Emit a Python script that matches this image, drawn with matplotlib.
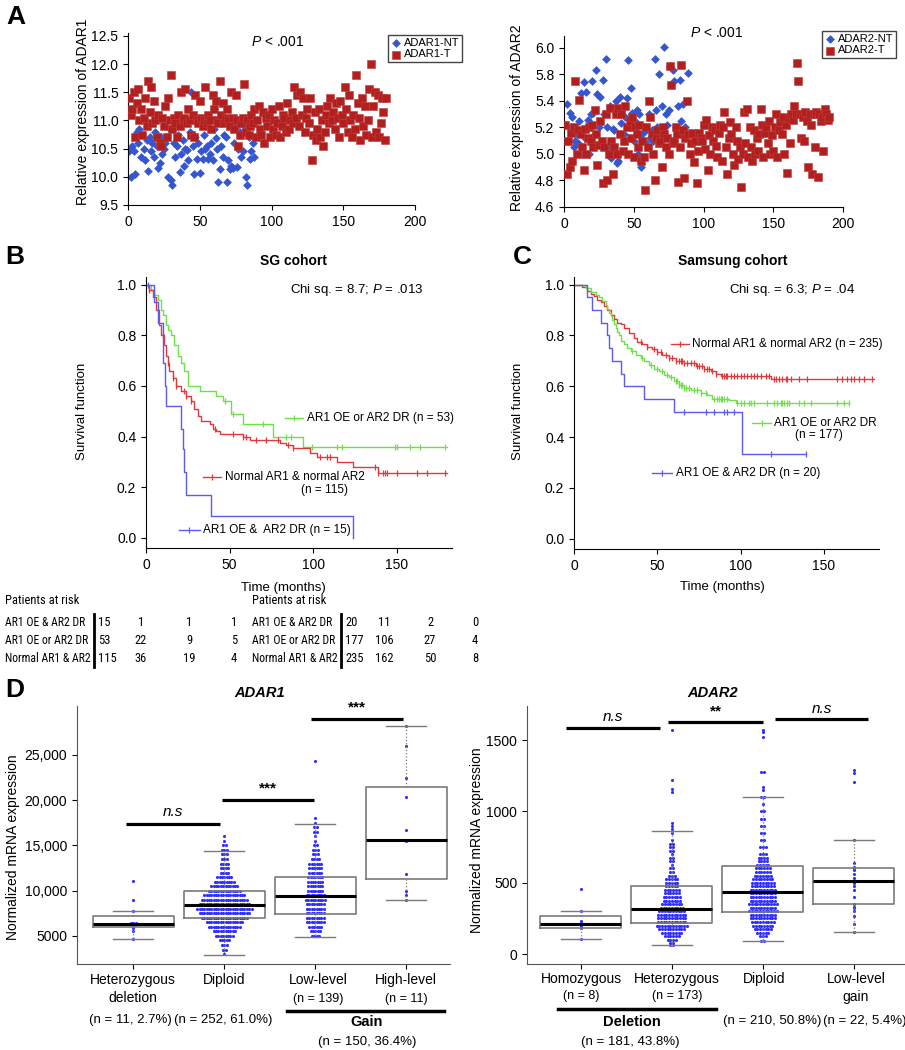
import numpy as np
import matplotlib
matplotlib.use("Agg")
import matplotlib.pyplot as plt
from matplotlib.lines import Line2D
from matplotlib import font_manager

plt.rcParams['font.family'] = ['Liberation Sans', 'DejaVu Sans']
plt.rcParams['mathtext.fontset'] = 'custom'
plt.rcParams['mathtext.rm'] = 'Liberation Sans'
plt.rcParams['mathtext.it'] = 'Liberation Sans:italic'

# ---------------- data: panel A (expression per sample) ----------------
adar1_nt = [10.45, 10.0, 10.55, 10.45, 10.05, 10.8, 10.6, 10.85, 10.35, 10.75,
            10.5, 10.3, 10.65, 10.1, 10.7, 10.45, 10.6, 10.35, 10.8, 10.55,
            10.15, 10.25, 10.7, 10.4, 10.5, 10.6, 10.7, 10.0, 10.85, 9.95,
            9.85, 10.6, 10.35, 10.55, 10.75, 10.08, 10.4, 10.65, 10.2, 10.5,
            10.48, 10.3, 10.8, 11.5, 10.55, 10.05, 10.7, 10.32, 10.6, 10.07,
            10.45, 10.32, 10.75, 10.5, 10.55, 10.32, 10.4, 10.6, 10.3, 10.85,
            10.68, 10.5, 9.9, 10.13, 10.55, 10.35, 10.75, 10.7, 9.9, 10.3,
            10.13, 10.2, 10.15, 10.6, 10.88, 10.17, 10.5, 10.8, 10.35, 10.45,
            10.9, 10.0, 9.85, 10.7, 10.32, 10.45, 10.6, 10.35]
adar1_t = [11.4, 11.1, 11.2, 11.5, 10.7, 11.3, 11.55, 11.0, 11.2, 10.75,
           11.05, 11.4, 10.9, 11.7, 11.15, 11.6, 10.95, 11.35, 11.0, 10.7,
           11.1, 10.6, 10.55, 11.05, 10.9, 11.25, 10.7, 11.4, 11.0, 11.8,
           10.85, 11.05, 10.95, 10.7, 11.1, 10.9, 11.5, 11.0, 11.05, 11.55,
           10.95, 11.2, 11.0, 10.75, 11.1, 10.7, 11.45, 11.0, 10.95, 11.35,
           11.05, 10.9, 11.0, 11.6, 10.95, 11.1, 11.0, 10.85, 11.45, 11.2,
           11.35, 11.0, 10.95, 11.7, 11.1, 11.3, 10.95, 11.05, 11.2, 11.0,
           10.9, 11.5, 11.05, 10.85, 11.45, 11.0, 10.55, 10.75, 10.95, 11.05,
           11.65, 10.8, 11.0, 10.75, 10.9, 11.1, 10.95, 11.2, 10.7, 11.0,
           11.25, 10.85, 10.75, 11.15, 10.6, 11.05, 10.9, 11.1, 10.7, 11.2,
           10.85, 11.0, 10.75, 10.95, 11.25, 10.7, 10.9, 11.1, 11.05, 10.8,
           11.3, 10.85, 11.0, 11.15, 10.95, 11.6, 11.05, 11.45, 10.9, 11.5,
           11.1, 11.4, 10.8, 11.05, 11.2, 10.95, 11.4, 10.3, 10.75, 11.15,
           10.65, 10.85, 11.2, 10.7, 11.0, 10.55, 10.8, 11.1, 11.25, 10.95,
           11.4, 11.0, 11.15, 10.85, 11.3, 11.05, 10.7, 11.35, 11.1, 10.95,
           11.6, 11.2, 10.8, 11.45, 11.0, 10.7, 11.1, 10.85, 11.8, 11.3,
           11.05, 10.65, 11.4, 10.9, 11.25, 10.75, 11.0, 11.55, 12.0, 10.7,
           11.25, 11.5, 10.8, 11.45, 10.7, 10.95, 11.4, 11.15, 10.65, 11.4]
# ADAR2 values are given in axis position (the printed tick labels skip 5.6)
adar2_nt = [5.22, 5.38, 5.1, 5.31, 5.2, 5.28, 5.05, 5.1, 5.15, 5.08,
            5.25, 5.46, 5.0, 5.54, 5.12, 5.47, 5.26, 5.0, 5.3, 5.55,
            5.31, 5.15, 5.63, 5.45, 5.2, 5.43, 5.1, 5.56, 5.3, 5.72,
            5.2, 5.05, 5.36, 4.97, 5.19, 5.18, 5.4, 4.93, 4.95, 5.43,
            5.23, 5.35, 5.15, 5.28, 5.42, 5.71, 5.2, 5.5, 5.31, 5.1,
            5.25, 5.33, 5.0, 5.3, 4.9, 5.15, 5.2, 5.09, 5.18, 5.05,
            5.3, 5.12, 5.18, 5.1, 5.72, 5.33, 5.2, 5.6, 5.08, 5.36,
            5.15, 5.81, 5.3, 5.22, 5.33, 5.66, 5.1, 5.63, 5.55, 5.2,
            5.18, 5.36, 5.56, 5.25, 5.38, 5.16, 5.2, 5.14, 5.61]
adar2_t = [5.22, 4.85, 5.1, 4.9, 5.16, 4.95, 5.2, 5.55, 5.0, 5.18,
           5.41, 5.15, 5.05, 4.88, 5.19, 5.0, 5.12, 5.2, 5.1, 5.22,
           5.05, 5.33, 5.15, 4.92, 5.07, 5.25, 5.1, 4.78, 5.05, 5.3,
           4.8, 5.0, 5.35, 5.1, 4.85, 5.05, 5.3, 5.0, 5.35, 5.15,
           5.3, 5.02, 5.1, 5.36, 5.2, 5.0, 5.25, 5.12, 5.28, 4.98,
           5.2, 5.15, 5.05, 5.22, 4.95, 5.1, 4.98, 4.73, 5.2, 5.05,
           5.4, 5.28, 5.15, 5.0, 4.8, 5.12, 5.18, 5.08, 5.1, 4.9,
           5.2, 5.15, 5.05, 5.12, 5.0, 5.66, 5.52, 5.08, 5.1, 5.2,
           5.15, 4.79, 5.05, 5.67, 5.18, 4.82, 5.12, 5.4, 5.15, 5.0,
           5.08, 5.16, 4.94, 5.1, 4.78, 5.02, 5.16, 5.12, 5.1, 5.22,
           5.04, 5.26, 4.88, 5.14, 5.0, 5.2, 5.1, 5.18, 5.06, 4.98,
           5.16, 5.22, 4.95, 5.2, 5.32, 5.05, 4.85, 5.12, 5.24, 5.15,
           5.0, 4.92, 5.2, 5.1, 4.96, 5.05, 4.75, 5.0, 5.32, 5.08,
           5.34, 4.98, 5.2, 5.05, 4.95, 5.18, 5.0, 5.12, 5.02, 5.15,
           5.34, 5.22, 4.98, 5.16, 5.2, 5.08, 5.25, 5.0, 5.14, 5.02,
           5.2, 5.3, 4.98, 5.18, 5.24, 5.15, 5.28, 5.0, 5.22, 4.86,
           5.27, 5.08, 5.3, 5.26, 5.36, 5.3, 5.69, 5.55, 5.3, 5.12,
           5.28, 5.1, 5.32, 5.25, 4.9, 5.3, 5.22, 4.85, 5.3, 5.05,
           5.32, 4.83, 5.3, 5.25, 5.28, 5.02, 5.34, 5.3, 5.26, 5.28]
adar2_ytick_pos = [4.6, 4.8, 5.0, 5.2, 5.4, 5.6, 5.8]
adar2_ytick_lab = ['4.6', '4.8', '5.0', '5.2', '5.4', '5.8', '6.0']

# ---------------- data: panel B / C (Kaplan-Meier) ----------------
sg_green_t = [0, 3, 5, 7, 9, 10, 12, 13, 15, 17, 19, 21, 23, 25, 32, 42, 46, 51, 58, 76, 94]
sg_green_s = [1.0, .98, .96, .94, .90, .88, .84, .82, .80, .76, .72, .69, .66, .60, .58, .56, .54, .49, .45, .40, .36]
sg_green_cens = [47, 52, 70, 84, 87, 99, 114, 117, 149, 150, 158, 164, 179]
sg_red_t = [0, 2, 4, 6, 8, 9, 11, 12, 13, 14, 16, 18, 21, 24, 27, 29, 31, 33, 38, 40, 42,
            44, 58, 62, 80, 84, 88, 98, 102, 114, 124, 139]
sg_red_s = [1.0, .98, .95, .90, .84, .80, .76, .72, .69, .66, .63, .60, .58, .56, .54, .51, .48,
            .46, .45, .43, .42, .41, .40, .385, .375, .365, .355, .335, .32, .30, .28, .255]
sg_red_cens = [2, 7, 10, 13, 16, 18, 23, 24, 27, 41, 52, 58, 60, 66, 72, 79, 85, 88, 104,
               108, 110, 137, 139, 142, 143, 144, 150, 162, 168, 179]
sg_blue_t = [0, 5, 7, 10, 11.5, 12, 21, 22, 23, 24, 39, 124]
sg_blue_s = [1.0, .93, .85, .69, .60, .52, .43, .35, .26, .17, .087, 0.0]
sg_blue_cens = [1]

ss_red_t = [0, 5, 8, 10, 12, 14, 16, 18, 20, 22, 24, 26, 28, 30, 33, 36, 38, 41, 44, 47,
            50, 53, 57, 61, 66, 73, 78, 82, 85, 88, 118]
ss_red_s = [1.0, .99, .975, .965, .955, .94, .93, .915, .9, .88, .865, .85, .845, .83, .81,
            .79, .775, .765, .755, .745, .735, .725, .71, .7, .69, .68, .67, .66, .65, .64, .627]
ss_red_cens = [40, 44, 48, 50, 52, 55, 57, 59, 61, 63, 64, 65, 66, 68, 70, 72, 74, 75, 77,
               78, 80, 81, 83, 85, 89, 90, 91, 92, 94, 96, 98, 100, 102, 104, 106, 108, 110,
               112, 115, 117, 120, 121, 123, 125, 127, 128, 130, 135, 140, 158, 161, 164,
               166, 168, 171, 174, 179]
ss_green_t = [0, 7, 10, 13, 15, 17, 19, 20, 21, 22, 23, 24, 25, 26, 27, 28, 30, 32, 34, 37,
              40, 42, 45, 48, 51, 54, 57, 60, 63, 66, 70, 76, 80, 83, 93, 97]
ss_green_s = [1.0, .985, .97, .96, .95, .935, .92, .905, .89, .875, .86, .845, .83, .815, .8,
              .78, .765, .75, .74, .725, .71, .7, .685, .67, .66, .645, .635, .62, .605, .595,
              .585, .575, .565, .552, .548, .535]
ss_green_cens = [35, 41, 46, 50, 53, 56, 58, 61, 62, 63, 64, 65, 66, 67, 69, 72, 74, 76, 79,
                 84, 86, 87, 88, 89, 90, 92, 98, 100, 102, 105, 106, 108, 116, 120, 122, 124,
                 125, 126, 128, 129, 135, 138, 142, 158, 162, 165]
ss_blue_t = [0, 8, 11, 16, 20, 21, 23, 28, 30, 42, 60, 101]
ss_blue_s = [1.0, .95, .9, .85, .8, .75, .7, .65, .6, .55, .5, .333]
ss_blue_cens = [66, 79, 84, 90, 92, 96, 118, 139]

risk_rows = ['AR1 OE & AR2 DR', 'AR1 OE or AR2 DR', 'Normal AR1 & AR2']
sg_risk = [[15, 1, 1, 1], [53, 22, 9, 5], [115, 36, 19, 4]]
ss_risk = [[20, 11, 2, 0], [177, 106, 27, 4], [235, 162, 50, 8]]

# ---------------- data: panel D (copy number groups) ----------------
a1_levels = [[4700, 5600, 5900, 6200, 6400, 7800, 9000, 11100],
             [3000, 3500, 4000, 4500, 5000, 5500, 6000, 6500, 7000, 7500, 8000, 8500, 9000,
              9500, 10000, 10500, 11000, 11500, 12000, 12500, 13000, 13500, 14000, 14500,
              15000, 15500, 16000],
             [5000, 5500, 6000, 6500, 7000, 7500, 8000, 8500, 9000, 9500, 10000, 10500, 11000,
              11500, 12000, 12500, 13000, 13500, 14000, 14500, 15000, 15500, 16000, 16500,
              17000, 17500, 18000, 24300],
             [9000, 9500, 10000, 11800, 15500, 15600, 16700, 20300, 22500, 26000, 28200]]
a1_counts = [[1, 1, 1, 2, 3, 1, 1, 1],
             [1, 2, 3, 5, 8, 10, 14, 16, 20, 22, 24, 22, 20, 18, 14, 12, 9, 7, 4, 4, 4, 3, 3,
              3, 2, 1, 1],
             [4, 5, 6, 8, 8, 8, 8, 8, 9, 8, 7, 7, 7, 7, 6, 6, 6, 4, 3, 3, 2, 1, 1, 2, 2, 1, 1, 1],
             [1] * 11]
a1_stats = [(4700, 6000, 6350, 7200, 7800), (2900, 7000, 8400, 10000, 14400),
            (4900, 7400, 9400, 11500, 17400), (9000, 11300, 15600, 21500, 28200)]
a1_sig = [(0.92, 1.95, 17400, 'n.s'), (1.97, 2.99, 20000, '***'), (2.95, 3.96, 29000, '***')]

a2_levels = [[105, 180, 195, 205, 215, 230, 300, 455],
             [60, 75, 100, 125, 150, 175, 200, 225, 250, 275, 300, 325, 350, 375, 400, 425,
              450, 475, 500, 525, 550, 575, 600, 625, 650, 675, 700, 725, 750, 775, 800, 850,
              880, 900, 920, 1140, 1160, 1220, 1570],
             [90, 125, 150, 175, 200, 225, 250, 275, 300, 325, 350, 375, 400, 425, 450, 475,
              500, 525, 550, 575, 600, 625, 650, 675, 700, 750, 800, 850, 900, 950, 1000,
              1050, 1100, 1150, 1170, 1280, 1520, 1560, 1575],
             [155, 210, 270, 300, 320, 330, 350, 400, 450, 480, 500, 510, 530, 560, 590, 600,
              610, 640, 800, 1210, 1270, 1290]]
a2_counts = [[1] * 8,
             [2, 2, 4, 6, 8, 10, 12, 11, 11, 11, 10, 9, 8, 7, 7, 6, 6, 5, 5, 5, 3, 2, 2, 1, 2,
              2, 1, 2, 2, 2, 1, 1, 1, 1, 1, 1, 1, 1, 1],
             [2, 3, 5, 7, 8, 9, 10, 10, 11, 10, 11, 10, 10, 10, 10, 9, 9, 8, 7, 6, 6, 5, 4, 4,
              3, 3, 2, 2, 2, 2, 2, 1, 2, 1, 1, 2, 1, 1, 1],
             [1] * 22]
a2_stats = [(105, 182, 210, 264, 299), (61, 217, 315, 474, 860),
            (93, 292, 432, 619, 1100), (154, 353, 514, 603, 799)]
a2_sig = [(0.835, 1.87, 1588, 'n.s'), (1.96, 3.0, 1630, '**'), (3.13, 4.16, 1647, 'n.s')]

# ---------------- colours ----------------
RED_SQ = '#b21f1f'
BLUE_DM = '#3556cf'
KM_GREEN = '#6fe04a'
KM_RED = '#e0393b'
KM_BLUE = '#5b5bf0'
DOT = '#2f2fff'
BOXGREY = '#7a7a7a'

W, H = 905, 1050
fig = plt.figure(figsize=(W / 100, H / 100), dpi=100)


def px_axes(x0, y0, x1, y1):
    return fig.add_axes([x0 / W, 1 - y1 / H, (x1 - x0) / W, (y1 - y0) / H])


def ft(x, y, s, **kw):
    kw.setdefault('ha', 'center')
    kw.setdefault('va', 'center')
    return fig.text(x / W, 1 - y / H, s, **kw)


def fline(x0, x1, y, lw=2.5):
    fig.add_artist(Line2D([x0 / W, x1 / W], [1 - y / H, 1 - y / H],
                          transform=fig.transFigure, color='black', lw=lw))


def clean(ax):
    ax.spines['top'].set_visible(False)
    ax.spines['right'].set_visible(False)
    ax.tick_params(labelsize=10, length=3.5, width=0.8)


# ---------------- panel A ----------------
def scatter_panel(ax, nt, t, names):
    ax.scatter(np.arange(1, len(nt) + 1), nt, marker='D', s=20, color=BLUE_DM,
               linewidths=0, zorder=2, label=names[0])
    ax.scatter(np.arange(1, len(t) + 1), t, marker='s', s=32, color=RED_SQ,
               edgecolors='#c23a3a', linewidths=0.4, zorder=3, label=names[1])
    ax.set_xlim(0, 200)
    ax.set_xticks([0, 50, 100, 150, 200])
    clean(ax)


axA1 = px_axes(128, 33, 415, 205)
scatter_panel(axA1, adar1_nt, adar1_t, ['ADAR1-NT', 'ADAR1-T'])
axA1.set_ylim(9.5, 12.55)
axA1.set_yticks([9.5, 10.0, 10.5, 11.0, 11.5, 12.0, 12.5])
axA1.legend(loc='upper left', bbox_to_anchor=(388 / W, 1 - 35 / H), bbox_transform=fig.transFigure,
            fancybox=False, edgecolor='#444444', framealpha=1, fontsize=8, borderpad=0.25,
            handletextpad=0.2, handlelength=1.0, borderaxespad=0, labelspacing=0.15)
ft(278, 42, '$P$ < .001', fontsize=10)
ft(83, 112, 'Relative expression of ADAR1', rotation=90, fontsize=10)

axA2 = px_axes(564, 36, 843, 207)
scatter_panel(axA2, adar2_nt, adar2_t, ['ADAR2-NT', 'ADAR2-T'])
axA2.set_ylim(4.6, 5.89)
axA2.set_yticks(adar2_ytick_pos)
axA2.set_yticklabels(adar2_ytick_lab)
axA2.legend(loc='upper left', bbox_to_anchor=(822 / W, 1 - 31 / H), bbox_transform=fig.transFigure,
            fancybox=False, edgecolor='#444444', framealpha=1, fontsize=8, borderpad=0.25,
            handletextpad=0.2, handlelength=1.0, borderaxespad=0, labelspacing=0.15)
ft(717, 33, '$P$ < .001', fontsize=10)
ft(517, 118, 'Relative expression of ADAR2', rotation=90, fontsize=10)


# ---------------- panels B, C ----------------
def km_curve(ax, times, surv, tend, cens, color):
    tt = list(times) + [tend]
    sv = list(surv) + [surv[-1]]
    ax.step(tt, sv, where='post', color=color, lw=1.0)
    idx = np.searchsorted(times, cens, side='right') - 1
    ax.plot(cens, np.array(surv)[idx], ls='', marker='|', ms=5, mew=0.9, color=color)


def km_key(ax, t0, t1, s, color, text, **kw):
    ax.plot([t0, t1], [s, s], color=color, lw=1.0)
    ax.plot([(t0 + t1) / 2], [s], marker='|', ms=5, mew=0.9, color=color)
    ax.text(t1 + 2, s, text, fontsize=8.5, va='center', ha='left', **kw)


def km_axes(ax):
    ax.set_xlim(0, 183)
    ax.set_ylim(-0.04, 1.03)
    ax.set_xticks([0, 50, 100, 150])
    ax.set_yticks([0, 0.2, 0.4, 0.6, 0.8, 1.0])
    ax.set_yticklabels(['0.0', '0.2', '0.4', '0.6', '0.8', '1.0'])
    clean(ax)


axB = px_axes(146, 277, 452, 548)
km_curve(axB, sg_green_t, sg_green_s, 180, sg_green_cens, KM_GREEN)
km_curve(axB, sg_red_t, sg_red_s, 180, sg_red_cens, KM_RED)
km_curve(axB, sg_blue_t, sg_blue_s, 124, sg_blue_cens, KM_BLUE)
km_axes(axB)
km_key(axB, 83, 94, 0.475, KM_GREEN, 'AR1 OE or AR2 DR (n = 53)')
km_key(axB, 34, 45, 0.24, KM_RED, 'Normal AR1 & normal AR2')
axB.text(121, 0.19, '(n = 115)', fontsize=8.5, va='center', ha='right')
km_key(axB, 20, 32, 0.033, KM_BLUE, 'AR1 OE &  AR2 DR (n = 15)')
ft(293, 261, 'SG cohort', fontsize=10, fontweight='bold')
ft(357, 290, 'Chi sq. = 8.7; $P$ = .013', fontsize=9.5)
ft(82, 411, 'Survival function', rotation=90, fontsize=9.5)
ft(283, 588, 'Time (months)', fontsize=9.5)

axC = px_axes(574, 277, 879, 549)
km_curve(axC, ss_red_t, ss_red_s, 180, ss_red_cens, KM_RED)
km_curve(axC, ss_green_t, ss_green_s, 165, ss_green_cens, KM_GREEN)
km_curve(axC, ss_blue_t, ss_blue_s, 139, ss_blue_cens, KM_BLUE)
km_axes(axC)
km_key(axC, 58, 69, 0.767, KM_RED, 'Normal AR1 & normal AR2 (n = 235)')
km_key(axC, 107, 118, 0.457, KM_GREEN, 'AR1 OE or AR2 DR')
axC.text(147, 0.41, '(n = 177)', fontsize=8.5, va='center', ha='center')
km_key(axC, 47, 59, 0.26, KM_BLUE, 'AR1 OE & AR2 DR (n = 20)')
ft(733, 261, 'Samsung cohort', fontsize=10, fontweight='bold')
ft(792, 290, 'Chi sq. = 6.3; $P$ = .04', fontsize=9.5)
ft(518, 411, 'Survival function', rotation=90, fontsize=9.5)
ft(722, 587, 'Time (months)', fontsize=9.5)

# risk tables: the original uses a narrow face; pick the installed face
# that lets the longest row name fit into its column at the largest size
installed = {f.name for f in font_manager.fontManager.ttflist}
NAME_W = 83
risk_family, risk_size = 'Liberation Sans', 7.0
renderer = fig.canvas.get_renderer()
for fam in ['Liberation Sans Narrow', 'Roboto Condensed', 'Roboto', 'Lato', 'Liberation Sans']:
    if fam not in installed:
        continue
    probe = ft(0, 0, max(risk_rows, key=len), fontsize=10, family=fam)
    size = 10 * NAME_W / probe.get_window_extent(renderer=renderer).width
    probe.remove()
    if size > risk_size:
        risk_family, risk_size = fam, min(size, 9.5)
        if size >= 9.5:
            break

for x0, bar_x, cols, table in [(5, 94, (98, 141, 189, 234), sg_risk),
                               (252, 341, (345, 384, 430, 475), ss_risk)]:
    ft(x0, 601, 'Patients at risk', ha='left', fontsize=9, family=risk_family)
    fig.add_artist(Line2D([bar_x / W, bar_x / W], [1 - 614 / H, 1 - 667 / H],
                          transform=fig.transFigure, color='black', lw=2))
    for r, (name, vals) in enumerate(zip(risk_rows, table)):
        y = 622 + r * 18.5
        ft(x0, y, name, ha='left', fontsize=risk_size, family=risk_family)
        ft(cols[0], y, str(vals[0]), ha='left', fontsize=9, family=risk_family)
        for cx, v in zip(cols[1:], vals[1:]):
            ft(cx, y, str(v), fontsize=9, family=risk_family)


# ---------------- panel D ----------------
def swarm(ax, xc, levels, counts, dx):
    xs, ys = [], []
    for v, k in zip(levels, counts):
        off = (np.arange(k) - (k - 1) / 2) * dx
        xs.extend(xc + off)
        ys.extend([v] * k)
    ax.scatter(xs, ys, s=5, color=DOT, linewidths=0, zorder=2)


def box_panel(ax, levels, counts, stats, sig, ylim, sig_dy, dx):
    bxs = [dict(whislo=lo, q1=q1, med=md, q3=q3, whishi=hi, fliers=[])
           for lo, q1, md, q3, hi in stats]
    ax.bxp(bxs, positions=[1, 2, 3, 4], widths=0.89, capwidths=0.44, showfliers=False,
           boxprops=dict(color=BOXGREY, lw=1.2),
           whiskerprops=dict(color=BOXGREY, lw=0.9, ls=':'),
           capprops=dict(color=BOXGREY, lw=1.0),
           medianprops=dict(color='black', lw=2.2), zorder=3)
    for i in range(4):
        swarm(ax, i + 1, levels[i], counts[i], dx)
    for x0, x1, y, lab in sig:
        ax.plot([x0, x1], [y, y], color='black', lw=2.3, solid_capstyle='butt', clip_on=False)
        ax.text((x0 + x1) / 2, y + sig_dy, lab, ha='center', va='bottom', fontsize=11,
                style='italic' if lab == 'n.s' else 'normal',
                fontweight='normal' if lab == 'n.s' else 'bold')
    ax.set_ylim(*ylim)
    ax.set_xticks([1, 2, 3, 4])
    ax.set_xticklabels([])
    clean(ax)
    for s in ('left', 'bottom'):
        ax.spines[s].set_color('#555555')


axD1 = px_axes(77, 706, 450, 964)
box_panel(axD1, a1_levels, a1_counts, a1_stats, a1_sig, (1900, 30400), 500, 0.026)
axD1.set_xlim(0.38, 4.48)
axD1.set_yticks([5000, 10000, 15000, 20000, 25000])
axD1.set_yticklabels(['5000', '10,000', '15,000', '20,000', '25,000'])
ft(260, 693, 'ADAR1', fontsize=10.5, fontweight='bold', style='italic')
ft(13, 847, 'Normalized mRNA expression', rotation=90, fontsize=10)
ft(133, 980, 'Heterozygous', fontsize=10)
ft(133, 998, 'deletion', fontsize=10)
ft(224, 980, 'Diploid', fontsize=10)
ft(318, 980, 'Low-level', fontsize=10)
ft(318, 999, '(n = 139)', fontsize=9)
ft(406, 980, 'High-level', fontsize=10)
ft(406, 999, '(n = 11)', fontsize=9)
ft(130, 1020, '(n = 11, 2.7%)', fontsize=9.5)
ft(223, 1020, '(n = 252, 61.0%)', fontsize=9.5)
fline(287, 444, 1011)
ft(367, 1022, 'Gain', fontsize=10.5, fontweight='bold')
ft(367, 1042, '(n = 150, 36.4%)', fontsize=9.5)

axD2 = px_axes(527, 706, 904, 964)
box_panel(axD2, a2_levels, a2_counts, a2_stats, a2_sig, (-70, 1740), 25, 0.03)
axD2.set_xlim(0.41, 4.55)
axD2.set_yticks([0, 500, 1000, 1500])
ft(713, 693, 'ADAR2', fontsize=10.5, fontweight='bold', style='italic')
ft(477, 840, 'Normalized mRNA expression', rotation=90, fontsize=10)
ft(581, 979, 'Homozygous', fontsize=10)
ft(581, 996, '(n = 8)', fontsize=9)
ft(677, 979, 'Heterozygous', fontsize=10)
ft(677, 996, '(n = 173)', fontsize=9)
ft(764, 979, 'Diploid', fontsize=10)
ft(856, 979, 'Low-level', fontsize=10)
ft(856, 997, 'gain', fontsize=10)
ft(772, 1021, '(n = 210, 50.8%)', fontsize=9.5)
ft(865, 1021, '(n = 22, 5.4%)', fontsize=9.5)
fline(558, 716, 1009)
ft(632, 1022, 'Deletion', fontsize=10.5, fontweight='bold')
ft(630, 1042, '(n = 181, 43.8%)', fontsize=9.5)

# panel letters
for x, y, s in [(16, 17, 'A'), (15, 257, 'B'), (522, 257, 'C'), (15, 690, 'D')]:
    ft(x, y, s, fontsize=19, fontweight='bold')

fig.savefig('out.png', dpi=100)
